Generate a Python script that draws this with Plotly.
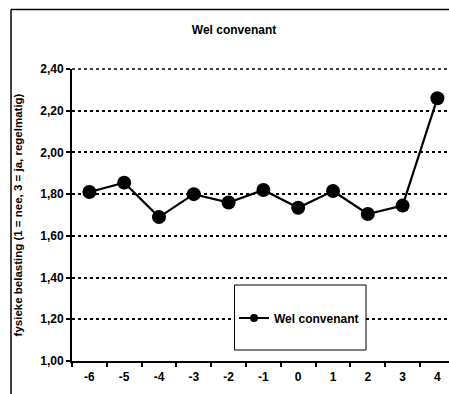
import plotly.graph_objects as go

categories = [-6, -5, -4, -3, -2, -1, 0, 1, 2, 3, 4]
tick_labels = ["-6", "-5", "-4", "-3", "-2", "-1", "0", "1", "2", "3", "4"]
wel_convenant = [1.81, 1.855, 1.69, 1.80, 1.76, 1.82, 1.735, 1.815, 1.705, 1.745, 2.26]
y_ticks = [1.0, 1.2, 1.4, 1.6, 1.8, 2.0, 2.2, 2.4]

W, H = 449, 394
L, R, T, B = 72, 0, 69, 33
pw, ph = W - L - R, H - T - B
step = 34.8  # px per category

def px(x):
    return (x - L) / pw

def py(y):
    return (H - B - y) / ph

font = "Liberation Sans, Arial, sans-serif"
x0 = categories[0] - 0.5
x1 = x0 + pw / step
boundaries = [c - 0.5 for c in categories] + [categories[-1] + 0.5]

fig = go.Figure()
fig.add_trace(go.Scatter(
    x=categories, y=wel_convenant, mode="lines+markers", name="Wel convenant",
    line=dict(color="black", width=2.2),
    marker=dict(color="black", size=14),
    cliponaxis=False, showlegend=False,
))
# legend entry (small symbol, like the original)
fig.add_trace(go.Scatter(
    x=[None], y=[None], mode="lines+markers", name="Wel convenant",
    line=dict(color="black", width=2.2),
    marker=dict(color="black", size=8),
    showlegend=True,
))

shapes = [
    # chart-area frame (left and top edges; right/bottom fall outside the picture)
    dict(type="line", xref="paper", yref="paper",
         x0=px(11), x1=px(11), y0=py(600), y1=py(9.5),
         line=dict(color="black", width=1.5), layer="below"),
    dict(type="line", xref="paper", yref="paper",
         x0=px(11), x1=px(700), y0=py(9.5), y1=py(9.5),
         line=dict(color="black", width=1.5), layer="below"),
    # top gridline at the upper end of the axis (plotly drops grid at the range edge)
    dict(type="line", xref="paper", yref="paper", x0=0, x1=1, y0=1, y1=1,
         line=dict(color="black", width=1.5, dash="dot"), layer="below"),
    dict(type="rect", xref="paper", yref="paper",
         x0=px(234.5), x1=px(366), y0=py(350), y1=py(285),
         line=dict(color="black", width=1), fillcolor="white", layer="above"),
]

fig.update_layout(
    width=W, height=H,
    margin=dict(l=L, r=R, t=T, b=B, autoexpand=False),
    paper_bgcolor="white", plot_bgcolor="white",
    separators=", ",
    font=dict(family=font, size=12, color="black"),
    title=dict(text="<b>Wel convenant</b>", x=234 / W, xref="container", xanchor="center",
               y=1 - 30 / H, yref="container", yanchor="middle",
               font=dict(family=font, size=12, color="black")),
    showlegend=True,
    legend=dict(x=px(234), y=py(318), xanchor="left", yanchor="middle",
                bgcolor="rgba(0,0,0,0)", borderwidth=0,
                font=dict(family=font, size=12, color="black", weight="bold"),
                itemwidth=30),
    xaxis=dict(
        range=[x0, x1], automargin=False,
        tickvals=categories, ticktext=tick_labels, ticks="",
        minor=dict(tickvals=boundaries, ticks="outside", ticklen=4, tickwidth=1.5,
                   tickcolor="black", showgrid=False),
        showgrid=False, showline=True, linecolor="black", linewidth=2,
        tickfont=dict(family=font, size=12, color="black", weight="bold"),
        ticklabelstandoff=4,
        zeroline=False,
    ),
    yaxis=dict(
        range=[y_ticks[0], y_ticks[-1]], tickvals=y_ticks, tickformat=".2f", automargin=False,
        showgrid=True, gridcolor="black", griddash="dot", gridwidth=1.5,
        showline=True, linecolor="black", linewidth=2,
        ticks="outside", ticklen=4, tickwidth=1.5, tickcolor="black",
        tickfont=dict(family=font, size=12, color="black", weight="bold"),
        title=dict(text="<b>fysieke belasting (1 = nee, 3 = ja, regelmatig)</b>",
                   font=dict(family=font, size=11.5, color="black"), standoff=15),
        zeroline=False,
    ),
    shapes=shapes,
)

fig.write_html(
    "out.html", config={"displayModeBar": False},
    post_script="document.body.style.margin='0';"
                "document.documentElement.style.overflow='hidden';"
                "document.body.style.overflow='hidden';",
)
